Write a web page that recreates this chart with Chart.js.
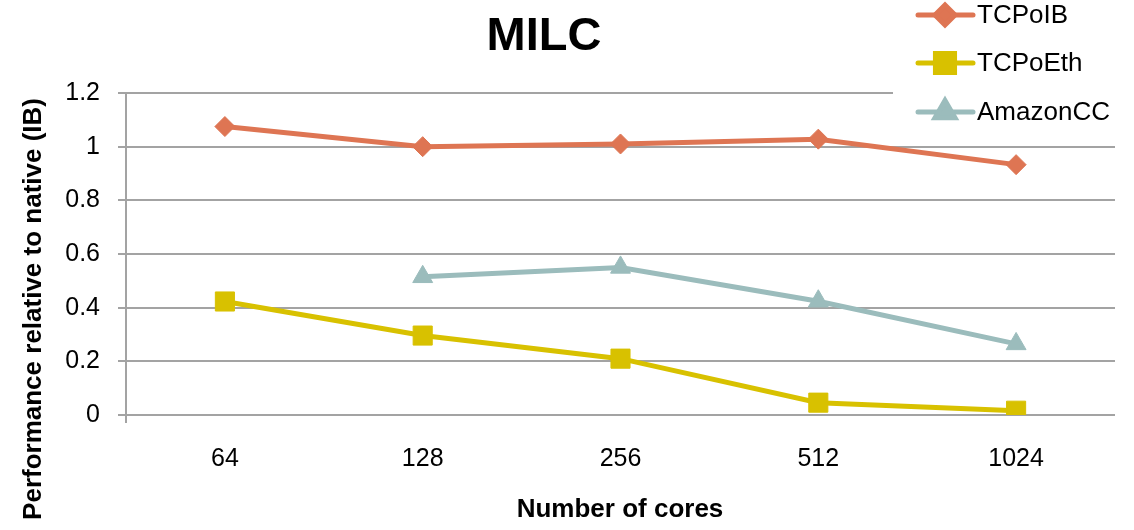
<!DOCTYPE html>
<html>
<head>
<meta charset="utf-8">
<script src="https://cdn.jsdelivr.net/npm/chart.js@4"></script>
<style>
  html, body { margin: 0; padding: 0; background: #fff; }
  #wrap { width: 1134px; height: 530px; }
</style>
</head>
<body>
<div id="wrap"><canvas id="milcChart" width="1134" height="530"></canvas></div>
<script>
// chart values
const cores = ['64', '128', '256', '512', '1024'];
const tcpoib = [1.075, 1.0, 1.01, 1.028, 0.933];
const tcpoeth = [0.423, 0.296, 0.21, 0.046, 0.016];
const amazoncc = [null, 0.515, 0.55, 0.424, 0.265];
const yMin = 0;
const yMax = 1.2;
const yStep = 0.2;

const chartTitle = 'MILC';
const xTitle = 'Number of cores';
const yTitle = 'Performance relative to native (IB)';

const FONT = '"Liberation Sans", Arial, sans-serif';
const GRID = '#a3a3a3';

// titles and legend are drawn by hand so they sit where the original has them
const decorPlugin = {
    id: 'decor',
    afterDraw(chart) {
        const ctx = chart.ctx;
        ctx.save();
        ctx.fillStyle = '#000';

        ctx.font = 'bold 47px ' + FONT;
        ctx.textAlign = 'center';
        ctx.textBaseline = 'alphabetic';
        ctx.fillText(chartTitle, 544, 50);

        ctx.font = 'bold 26px ' + FONT;
        ctx.fillText(xTitle, 620, 517);

        ctx.save();
        ctx.translate(41, 98);
        ctx.rotate(-Math.PI / 2);
        ctx.textAlign = 'right';
        ctx.fillText(yTitle, 0, 0);
        ctx.restore();

        // legend box covers the top gridline like the original
        ctx.fillStyle = '#fff';
        ctx.fillRect(893, 0, 241, 128);
        const rows = [15, 63, 112];
        chart.data.datasets.forEach((ds, i) => {
            const y = rows[i];
            ctx.strokeStyle = ds.borderColor;
            ctx.lineWidth = ds.borderWidth;
            ctx.lineCap = 'round';
            ctx.beginPath();
            ctx.moveTo(918, y);
            ctx.lineTo(973, y);
            ctx.stroke();
            ctx.fillStyle = ds.pointBackgroundColor;
            ctx.strokeStyle = ds.pointBorderColor;
            if (Chart.helpers && Chart.helpers.drawPoint) {
                Chart.helpers.drawPoint(ctx, {
                    pointStyle: ds.pointStyle,
                    radius: ds.pointRadius,
                    borderWidth: ds.pointBorderWidth,
                    rotation: 0,
                }, 945, y);
            }
            ctx.fillStyle = '#000';
            ctx.font = '26px ' + FONT;
            ctx.textAlign = 'left';
            ctx.textBaseline = 'middle';
            ctx.fillText(ds.label, 977, y + 1);
        });
        ctx.restore();
    },
};

const makeSeries = (label, data, color, style, radius) => ({
    label: label,
    data: data,
    borderColor: color,
    backgroundColor: color,
    pointBackgroundColor: color,
    pointBorderColor: color,
    borderWidth: 5,
    pointStyle: style,
    pointRadius: radius,
    pointHoverRadius: radius,
    pointBorderWidth: 1,
    tension: 0,
    spanGaps: false,
});

const ctx = document.getElementById('milcChart').getContext('2d');
new Chart(ctx, {
    type: 'line',
    data: {
        labels: cores,
        datasets: [
            makeSeries('TCPoIB', tcpoib, '#de7553', 'rectRot', 10),
            makeSeries('TCPoEth', tcpoeth, '#d8c100', 'rect', 13.5),
            makeSeries('AmazonCC', amazoncc, '#9bbcbc', 'triangle', 11.5),
        ],
    },
    options: {
        responsive: false,
        animation: false,
        events: [],
        layout: {
            padding: { top: 93, right: 19, bottom: 0, left: 0 },
        },
        plugins: {
            legend: { display: false },
            title: { display: false },
            tooltip: { enabled: false },
        },
        scales: {
            x: {
                offset: true,
                grid: {
                    offset: true,
                    drawOnChartArea: false,
                    drawTicks: true,
                    tickLength: 8,
                    color: GRID,
                    // only the left boundary gets a tick (the y axis poking below zero)
                    tickColor: (c) => (c.index === 0 ? GRID : 'rgba(0,0,0,0)'),
                    lineWidth: 2,
                },
                border: { display: false },
                ticks: {
                    color: '#000',
                    font: { family: FONT, size: 25 },
                    padding: 21,
                    maxRotation: 0,
                    autoSkip: false,
                },
                afterFit: (scale) => { scale.height = 115; },
            },
            y: {
                min: yMin,
                max: yMax,
                grid: {
                    color: GRID,
                    lineWidth: 2,
                    tickLength: 8,
                },
                border: { display: true, color: GRID, width: 2 },
                ticks: {
                    stepSize: yStep,
                    color: '#000',
                    font: { family: FONT, size: 25 },
                    padding: 18,
                    callback: (v) => String(Number(v.toFixed(1))),
                },
                afterFit: (scale) => { scale.width = 126; },
            },
        },
    },
    plugins: [decorPlugin],
});
</script>
</body>
</html>
